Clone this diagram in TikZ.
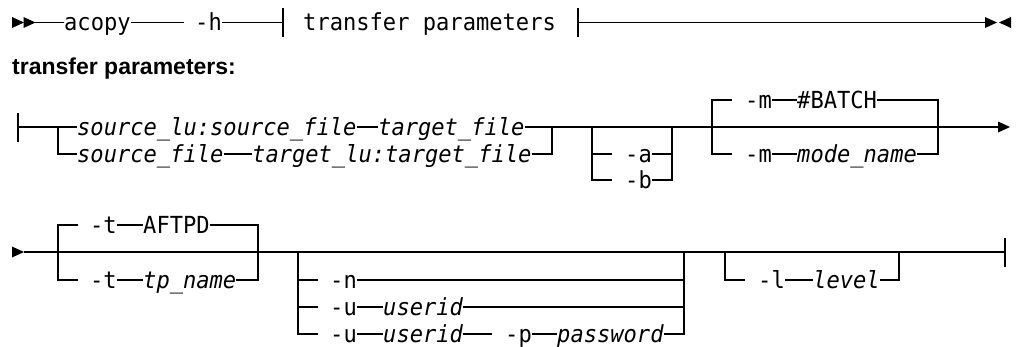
\documentclass[tikz,border=0pt]{standalone}
\usepackage{fontspec}
\setmainfont{Liberation Sans}
\setmonofont[FakeStretch=0.94]{DejaVu Sans Mono}
\usetikzlibrary{positioning}

\def\barhalf{14.5}
\def\tipsize{5.5}

\begin{document}
\begin{tikzpicture}[x=1pt, y=-1pt,
    track/.style={draw, line width=1.5pt},
    term/.style={inner sep=0pt, anchor=west, text height=19pt, text depth=3pt, font=\fontsize{23.5}{27}\selectfont\ttfamily},
    param/.style={term, font=\fontsize{23.5}{27}\selectfont\ttfamily\itshape},
    head/.style={inner sep=0pt, anchor=base west, font=\fontsize{23}{28}\selectfont\bfseries}
    ]

    \newcommand{\tipright}[1]{\fill (#1) -- ++(0,-\tipsize) -- ++(12,\tipsize) -- ++(-12,\tipsize) -- cycle;}
    \newcommand{\tipleft}[1]{\fill (#1) -- ++(0,-\tipsize) -- ++(-12,\tipsize) -- ++(12,\tipsize) -- cycle;}
    \newcommand{\vbar}[1]{\draw[track] (#1) ++(0,-\barhalf) -- ++(0,2*\barhalf);}

    \useasboundingbox (0,0) rectangle (1017,346);

    % Main command line
    \coordinate (r0) at (12,22.5);
    \coordinate (r1) at (23.5,22.5);
    \coordinate (r2) at (35,22.5);
    \tipright{r0}
    \tipright{r1}
    \node[term] (acopy) at (64,22.5) {acopy};
    \coordinate (hgap) at (184,22.5);
    \node[term] (hopt) at (195,22.5) {-h};
    \coordinate (barA) at (283,22.5);
    \node[term] (tpref) at (303,22.5) {transfer parameters};
    \coordinate (barB) at (578,22.5);
    \coordinate (rend) at (985,22.5);
    \coordinate (rstop) at (1011,22.5);
    \draw[track] (r2) -- (acopy.west);
    \draw[track] (acopy.east) -- (hgap);
    \draw[track] (hopt.east) -- (barA);
    \draw[track] (barB) -- (rend);
    \vbar{barA}
    \vbar{barB}
    \tipright{rend}
    \tipleft{rstop}

    % Fragment heading
    \node[head] (title) at (12,74) {transfer parameters:};

    % Fragment, first line: files
    \coordinate (f0) at (18,127);
    \coordinate (s1) at (58,127);
    \coordinate (s2) at (552,127);
    \vbar{f0}
    \node[param] (srclu) at (77,127) {source\_lu:source\_file};
    \node[param] (tgt) at (378,127) {target\_file};
    \node[param] (src) at (77,154) {source\_file};
    \node[param] (tgtlu) at (252,154) {target\_lu:target\_file};
    \draw[track] (f0) -- (s1) -- (srclu.west);
    \draw[track] (srclu.east) -- (tgt.west);
    \draw[track] (tgt.east) -- (s2);
    \draw[track] (s1) |- (src.west);
    \draw[track] (src.east) -- (tgtlu.west);
    \draw[track] (tgtlu.east) -| (s2);

    % -a / -b choice
    \coordinate (c1) at (592,127);
    \coordinate (c2) at (672,127);
    \draw[track] (s2) -- (c1) -- (c2);
    \foreach [count=\i] \opt/\ypos in {a/154, b/180} {
        \coordinate (cb\i) at (612,\ypos);
        \node[term] (opt\opt) at (625,\ypos) {-\opt};
        \draw[track] (c1) |- (cb\i);
        \draw[track] (opt\opt.east) -| (c2);
    }

    % -m choice
    \coordinate (d1) at (712,127);
    \coordinate (d2) at (938,127);
    \coordinate (a2) at (998,127);
    \draw[track] (c2) -- (d1) -- (d2) -- (a2);
    \tipright{a2}
    \foreach [count=\i] \ypos/\val/\sty in {100/\#BATCH/term, 154/mode\_name/param} {
        \coordinate (db\i) at (732,\ypos);
        \node[term] (mopt\i) at (745,\ypos) {-m};
        \node[\sty] (mval\i) at (797,\ypos) {\val};
        \draw[track] (d1) |- (db\i);
        \draw[track] (mopt\i.east) -- (mval\i.west);
        \draw[track] (mval\i.east) -| (d2);
    }

    % Fragment, second line
    \coordinate (t0) at (12,252);
    \coordinate (t1) at (24,252);
    \coordinate (g1) at (58,252);
    \coordinate (g2) at (258,252);
    \coordinate (n1) at (298,252);
    \coordinate (n2) at (684,252);
    \coordinate (l1) at (725,252);
    \coordinate (l2) at (899,252);
    \coordinate (t9) at (1005,252);
    \tipright{t0}
    \draw[track] (t1) -- (g1) -- (g2) -- (n1) -- (n2) -- (l1) -- (l2) -- (t9);
    \vbar{t9}

    % -t choice
    \foreach [count=\i] \ypos/\val/\sty in {225/AFTPD/term, 280/tp\_name/param} {
        \coordinate (gb\i) at (78,\ypos);
        \node[term] (topt\i) at (90,\ypos) {-t};
        \node[\sty] (tval\i) at (143,\ypos) {\val};
        \draw[track] (g1) |- (gb\i);
        \draw[track] (topt\i.east) -- (tval\i.west);
        \draw[track] (tval\i.east) -| (g2);
    }

    % -n / -u choice
    \foreach [count=\i] \ypos/\flag in {280/n, 307/u, 334/u} {
        \coordinate (nb\i) at (318,\ypos);
        \node[term] (flag\i) at (330,\ypos) {-\flag};
        \draw[track] (n1) |- (nb\i);
    }
    \node[param] (uid2) at (383,307) {userid};
    \node[param] (uid3) at (383,334) {userid};
    \coordinate (pgap) at (492,334);
    \node[term] (popt) at (505,334) {-p};
    \node[param] (pwd) at (557,334) {password};
    \draw[track] (flag1.east) -| (n2);
    \draw[track] (flag2.east) -- (uid2.west);
    \draw[track] (uid2.east) -| (n2);
    \draw[track] (flag3.east) -- (uid3.west);
    \draw[track] (uid3.east) -- (pgap);
    \draw[track] (popt.east) -- (pwd.west);
    \draw[track] (pwd.east) -| (n2);

    % -l option
    \coordinate (lb) at (745,280);
    \node[term] (lopt) at (758,280) {-l};
    \node[param] (lvl) at (813,280) {level};
    \draw[track] (l1) |- (lb);
    \draw[track] (lopt.east) -- (lvl.west);
    \draw[track] (lvl.east) -| (l2);
\end{tikzpicture}
\end{document}
